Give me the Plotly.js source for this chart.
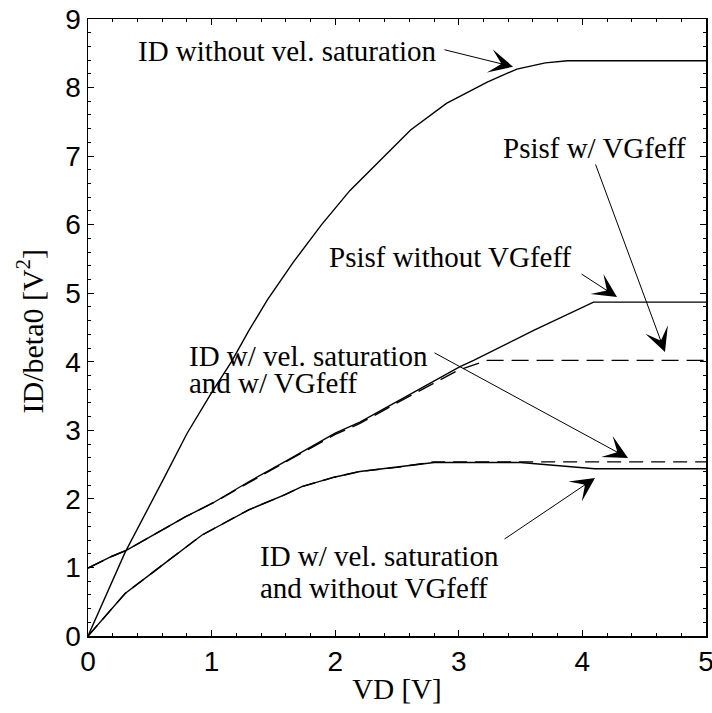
<!DOCTYPE html>
<html>
<head>
<meta charset="utf-8">
<script src="https://cdn.plot.ly/plotly-3.0.1.min.js"></script>
<style>html,body{margin:0;padding:0;background:#fff;}#chart{width:712px;height:713px;}</style>
</head>
<body>
<div id="chart"></div>
<script>
// ID without velocity saturation
var vdNoSat = [0, 0.30, 0.62, 0.80, 1.00, 1.16, 1.30, 1.45, 1.66, 1.89, 2.12, 2.40, 2.61, 2.90, 3.23, 3.47, 3.70, 3.88, 5];
var idNoSat = [0, 1.22, 2.32, 2.95, 3.55, 4.00, 4.45, 4.90, 5.45, 6.00, 6.50, 7.00, 7.38, 7.77, 8.08, 8.27, 8.36, 8.39, 8.39];
// Psisf without VGfeff (solid)
var vdPsiNo = [0, 0.19, 0.31, 0.61, 0.79, 1.01, 1.30, 1.59, 2.0, 2.2, 2.5, 3.01, 3.12, 3.61, 4.09, 5];
var psiNo = [0.99, 1.16, 1.25, 1.55, 1.74, 1.94, 2.25, 2.54, 2.96, 3.12, 3.42, 3.93, 4.02, 4.46, 4.87, 4.87];
// Psisf w/ VGfeff (dashed)
var vdPsiW = [0, 0.19, 0.31, 0.61, 0.79, 1.01, 1.30, 1.59, 2.0, 2.2, 2.5, 3.0, 3.23, 5];
var psiW = [0.99, 1.16, 1.25, 1.55, 1.74, 1.94, 2.24, 2.53, 2.94, 3.10, 3.40, 3.88, 4.02, 4.02];
// ID w/ vel. saturation and without VGfeff (solid)
var vdSatNo = [0, 0.30, 0.62, 0.92, 1.30, 1.59, 1.73, 2.0, 2.2, 2.5, 2.8, 3.5, 3.8, 4.1, 5];
var idSatNo = [0, 0.62, 1.06, 1.47, 1.84, 2.06, 2.18, 2.32, 2.40, 2.46, 2.53, 2.53, 2.49, 2.44, 2.44];
// ID w/ vel. saturation and w/ VGfeff (dashed)
var vdSatW = [0, 0.30, 0.62, 0.92, 1.30, 1.59, 1.73, 2.0, 2.2, 2.5, 2.8, 5];
var idSatW = [0, 0.62, 1.06, 1.47, 1.84, 2.06, 2.18, 2.32, 2.40, 2.46, 2.54, 2.54];

var xTickVals = [0, 1, 2, 3, 4, 5];
var yTickVals = [0, 1, 2, 3, 4, 5, 6, 7, 8, 9];

var serif = 'Liberation Serif, Times New Roman, serif';
var sans = 'Liberation Sans, Arial, sans-serif';

function ln(x, y, dash) {
  return {x: x, y: y, type: 'scatter', mode: 'lines', showlegend: false, hoverinfo: 'skip',
    line: {color: '#000', width: 1.4, dash: dash || 'solid'}};
}

var data = [
  ln(vdPsiW, psiW, '17px,8px'),
  ln(vdSatW, idSatW, '14px,8px'),
  ln(vdNoSat, idNoSat),
  ln(vdPsiNo, psiNo),
  ln(vdSatNo, idSatNo)
];

function txt(x, y, t, anchor) {
  return {x: x, y: y, xref: 'x', yref: 'y', text: t, showarrow: false,
    xanchor: anchor || 'center', yanchor: 'middle', font: {family: serif, size: 29, color: '#000'}};
}
function arr(ax, ay, x, y) {
  return {x: x, y: y, ax: ax, ay: ay, xref: 'x', yref: 'y', axref: 'x', ayref: 'y', text: '',
    showarrow: true, arrowhead: 3, arrowsize: 4, arrowwidth: 1, arrowcolor: '#000', standoff: 0, startstandoff: 0};
}

var annotations = [
  txt(1.610, 8.533, 'ID without vel. saturation'),
  txt(4.094, 7.125, 'Psisf w/ VGfeff'),
  txt(2.929, 5.528, 'Psisf without VGfeff'),
  txt(0.801, 4.084, 'ID w/ vel. saturation', 'left'),
  txt(0.801, 3.690, 'and w/ VGfeff', 'left'),
  txt(1.375, 1.167, 'ID w/ vel. saturation', 'left'),
  txt(1.375, 0.700, 'and without VGfeff', 'left'),
  arr(2.872, 8.557, 3.439, 8.304),
  arr(4.102, 6.900, 4.668, 4.142),
  arr(3.981, 5.294, 4.280, 4.944),
  arr(2.791, 4.142, 4.369, 2.596),
  arr(3.358, 1.400, 4.102, 2.304),
  // y-axis title
  {x: 0, y: 0.5, xref: 'paper', yref: 'paper', xanchor: 'center', yanchor: 'middle',
   xshift: -58, yshift: -4, textangle: -90, showarrow: false,
   text: 'ID/beta0 [V<sup>2</sup>]', font: {family: serif, size: 30, color: '#000'}}
];

var axisCommon = {
  showgrid: false, zeroline: false, showline: true, linecolor: '#000', linewidth: 1.5,
  mirror: 'allticks', ticks: 'inside', ticklen: 6, tickwidth: 1, tickcolor: '#000',
  minor: {dtick: 0.2, ticks: 'inside', ticklen: 3, tickwidth: 1, tickcolor: '#000', showgrid: false},
  tickfont: {family: sans, size: 28, color: '#000'},
  ticklabeloverflow: 'allow'
};

var layout = {
  width: 712, height: 713,
  margin: {l: 88, r: 6, t: 19, b: 77},
  paper_bgcolor: '#fff', plot_bgcolor: '#fff',
  xaxis: Object.assign({}, axisCommon, {
    range: [0, 5], tickvals: xTickVals, ticktext: xTickVals.map(String),
    title: {text: 'VD [V]', font: {family: serif, size: 29, color: '#000'}, standoff: 2}
  }),
  yaxis: Object.assign({}, axisCommon, {
    range: [0, 9], tickvals: yTickVals, ticktext: yTickVals.map(String)
  }),
  annotations: annotations
};

Plotly.newPlot('chart', data, layout, {staticPlot: true, displayModeBar: false});
</script>
</body>
</html>
